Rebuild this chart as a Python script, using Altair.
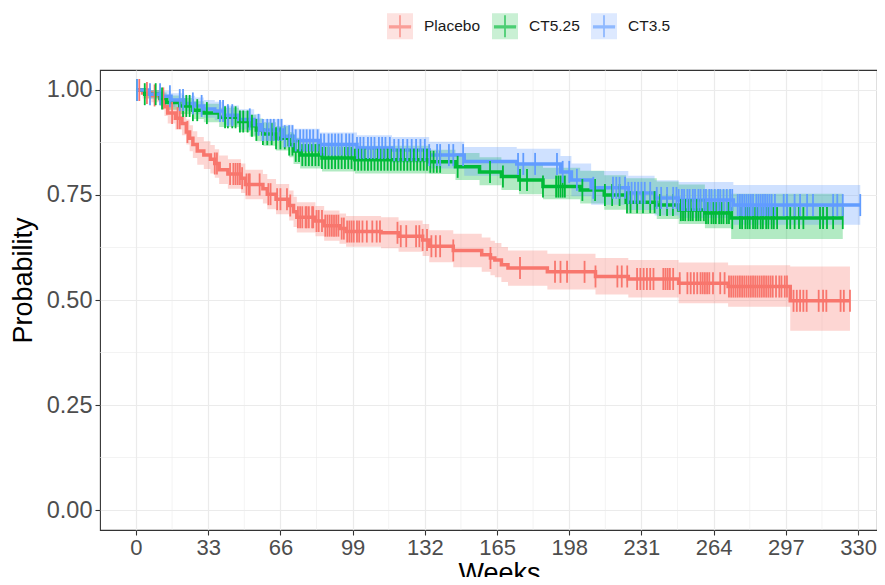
import altair as alt
import pandas as pd

groups = ["Placebo", "CT5.25", "CT3.5"]
colors = ["#F8766D", "#00BA38", "#619CFF"]
key_fills = ["#FDD6D3", "#B3EAC3", "#D0E1FF"]   # band colour at 30% over white, for the legend keys

# ---------------- Placebo ----------------
placebo_t = [0, 3, 7, 11, 13, 14.5, 18, 21, 23, 24.5, 26, 28, 31, 34, 36, 38, 42, 48, 50, 58, 60, 64, 70, 72, 73.5,
             82, 86, 93, 96, 112, 120, 131, 134, 145, 158, 162, 164, 167, 170, 188, 210, 225, 248, 270.6, 299]
placebo_s = [1.000, 0.993, 0.987, 0.980, 0.960, 0.945, 0.933, 0.920, 0.900, 0.885, 0.870, 0.855, 0.845, 0.835, 0.825,
             0.810, 0.800, 0.790, 0.775, 0.765, 0.752, 0.740, 0.725, 0.710, 0.697, 0.688, 0.677, 0.670, 0.663, 0.660,
             0.652, 0.643, 0.628, 0.618, 0.608, 0.600, 0.595, 0.584, 0.576, 0.567, 0.556, 0.550, 0.540, 0.532, 0.498]
placebo_lo = [1.000, 0.980, 0.971, 0.962, 0.938, 0.920, 0.906, 0.892, 0.870, 0.854, 0.838, 0.822, 0.812, 0.801, 0.791,
              0.776, 0.765, 0.755, 0.740, 0.730, 0.716, 0.704, 0.689, 0.674, 0.661, 0.652, 0.641, 0.634, 0.627, 0.623,
              0.615, 0.605, 0.590, 0.578, 0.567, 0.559, 0.554, 0.543, 0.534, 0.525, 0.513, 0.506, 0.492, 0.484, 0.427]
placebo_hi = [1.000, 1.000, 1.000, 0.998, 0.982, 0.970, 0.960, 0.948, 0.930, 0.916, 0.902, 0.888, 0.878, 0.869, 0.859,
              0.844, 0.835, 0.825, 0.810, 0.800, 0.788, 0.776, 0.761, 0.746, 0.733, 0.724, 0.713, 0.706, 0.700, 0.697,
              0.689, 0.681, 0.666, 0.658, 0.649, 0.641, 0.636, 0.626, 0.618, 0.610, 0.600, 0.595, 0.589, 0.583, 0.580]
placebo_end = 326.3
placebo_cens = [1.5, 5, 8.5, 12.5, 16.5, 19, 20, 23.5, 36, 37, 43, 44.5, 45.5, 46.5, 47.5, 48.5, 50.5, 51.5, 52,
                56.5, 60.5, 61.5, 64.5, 66, 69, 70.5, 74, 75, 76, 77.5, 78, 79, 80.5, 81, 82.5, 83.5, 85, 86.5,
                87.5, 88.5, 89.5, 90.5, 91.5, 92.5, 94, 95, 96.5, 97.5, 98.5, 99.5, 101, 102, 103.5, 105.5, 108,
                110, 111.5, 119.5, 121, 123.5, 128, 129.5, 131, 133, 135, 137, 139, 145, 162, 175.5, 191.5, 194,
                197, 205, 210, 220, 222, 224.5, 229, 230.5, 232, 233.5, 235, 236.5, 241, 242, 243, 244, 245.5,
                248.5, 252, 253.5, 255, 256.5, 258, 259, 260, 261, 262, 263.7, 267, 269, 271, 272, 273, 274, 275,
                276, 277, 278, 279, 280, 281, 282, 283, 284, 285, 286, 287, 288, 289, 290, 291, 292.5, 294, 295,
                296.5, 297.5, 300.5, 302, 303.5, 305, 306.5, 312, 314, 315.5, 322, 323.5, 326.3]

# ---------------- CT5.25 ----------------
ct525_t = [0, 4, 11, 14, 20, 26, 31, 38, 47, 52, 55, 58, 64, 70, 72, 75, 85, 100, 134, 146, 157, 167, 175, 186,
           203, 214, 224, 238, 248, 260, 272]
ct525_s = [1.000, 0.990, 0.980, 0.970, 0.962, 0.952, 0.945, 0.935, 0.925, 0.915, 0.905, 0.895, 0.885, 0.870, 0.855,
           0.845, 0.838, 0.834, 0.829, 0.817, 0.805, 0.794, 0.786, 0.770, 0.762, 0.750, 0.733, 0.726, 0.714, 0.707,
           0.695]
ct525_lo = [1.000, 0.980, 0.966, 0.953, 0.943, 0.931, 0.923, 0.912, 0.900, 0.889, 0.878, 0.867, 0.856, 0.840, 0.824,
            0.813, 0.806, 0.801, 0.800, 0.786, 0.773, 0.762, 0.752, 0.740, 0.730, 0.715, 0.705, 0.693, 0.681, 0.671,
            0.645]
ct525_hi = [1.000, 1.000, 0.994, 0.987, 0.981, 0.973, 0.967, 0.958, 0.950, 0.941, 0.932, 0.923, 0.914, 0.900, 0.886,
            0.877, 0.870, 0.867, 0.858, 0.850, 0.840, 0.829, 0.822, 0.815, 0.808, 0.797, 0.790, 0.782, 0.775, 0.763,
            0.753]
ct525_end = 323
ct525_cens = [0.5, 4, 9, 11.9, 21.5, 23, 24.5, 26, 28, 32.4, 40.7, 42, 44, 45.5, 47.5, 49, 51, 53, 55, 58, 60, 62,
              64, 66, 68, 70, 71.5, 73, 74.5, 76, 77.5, 79, 80.5, 82, 83.5, 85, 86.5, 88, 89.5, 91, 92.5, 94, 95.5,
              97, 98.5, 100, 101.5, 103, 104.5, 106, 107.5, 109, 110.5, 112, 113.5, 115, 116.5, 118, 119.5, 121,
              122.5, 124, 125.5, 127, 128.5, 130, 131.5, 133, 134.5, 136, 137.5, 139, 147, 161.8, 167.7, 175.5,
              178.7, 186, 192, 193, 194, 195, 196, 204, 209.8, 214.3, 217.6, 221, 224.4, 226, 229, 231.7, 235, 237,
              239.5, 242.7, 245.4, 249, 250, 251, 252.5, 253.5, 254.5, 256, 257, 258, 259.5, 260.5, 261.5, 263,
              264, 265, 266.5, 267.5, 268.5, 270, 271, 272.5, 276, 277, 278.5, 279.5, 280.5, 282, 283, 284, 285.5,
              286.5, 288, 289, 290.5, 291.5, 293, 297.5, 299, 301, 303, 305, 312.6, 314, 315.8, 318.6, 323]

# ---------------- CT3.5 ----------------
ct35_t = [0, 6, 12, 16, 22, 27, 31, 36, 40, 47, 54, 57, 67, 72, 84, 101, 117, 134, 150, 174, 194, 199, 208, 225,
          237, 248, 273]
ct35_s = [1.000, 0.990, 0.985, 0.976, 0.968, 0.962, 0.955, 0.950, 0.940, 0.930, 0.917, 0.905, 0.890, 0.880, 0.870,
          0.862, 0.857, 0.845, 0.830, 0.824, 0.805, 0.786, 0.767, 0.755, 0.743, 0.738, 0.726]
ct35_lo = [1.000, 0.980, 0.972, 0.960, 0.950, 0.942, 0.934, 0.928, 0.917, 0.906, 0.892, 0.879, 0.863, 0.852, 0.841,
           0.832, 0.826, 0.813, 0.796, 0.788, 0.767, 0.747, 0.727, 0.714, 0.701, 0.695, 0.679]
ct35_hi = [1.000, 1.000, 0.998, 0.992, 0.986, 0.982, 0.976, 0.972, 0.963, 0.954, 0.942, 0.931, 0.917, 0.908, 0.899,
           0.892, 0.888, 0.877, 0.864, 0.860, 0.843, 0.825, 0.807, 0.796, 0.785, 0.781, 0.774]
ct35_end = 331
ct35_cens = [0.5, 6.4, 11, 15.5, 20, 21.5, 26, 30, 38.4, 39.8, 42, 44, 52, 56, 58, 60, 61.5, 63, 65, 66.5, 68, 70,
             71.5, 73, 75, 76.5, 78, 79.5, 81, 83, 84.5, 86, 88, 89.5, 91, 92.5, 94, 96, 97.5, 99, 101, 102.5, 104,
             106, 107.5, 109, 111, 112.5, 114, 116, 118, 120, 122, 124, 126, 128, 130, 132, 134, 137.6, 139, 143,
             145, 149.5, 174.6, 177, 182.4, 192.4, 195, 198, 201.5, 209, 218, 219.5, 221, 223.5, 225, 226.5, 228,
             229.5, 231, 232.5, 235, 238, 240, 242.7, 245.5, 247, 248, 249.5, 250.5, 252, 253, 254.5, 255.5, 257,
             258, 259.5, 260.5, 262, 263, 264.5, 266, 267, 268.5, 270, 271.5, 272.5, 275, 276, 277, 278, 279, 280,
             281, 282, 283.5, 284.5, 285.5, 286.5, 287.5, 288.5, 289.5, 290.5, 292, 296, 297.5, 301, 303.5, 306.7,
             309.4, 318.6, 320.5, 323, 331]

x_ticks = [0, 33, 66, 99, 132, 165, 198, 231, 264, 297, 330]
x_minor = [16.5, 49.5, 82.5, 115.5, 148.5, 181.5, 214.5, 247.5, 280.5, 313.5]
y_ticks = [0, 0.25, 0.5, 0.75, 1.0]
y_minor = [0.125, 0.375, 0.625, 0.875]


def step_rows(name, t, s, lo, hi, end):
    rows = [dict(group=name, week=t[i], surv=s[i], lo=lo[i], hi=hi[i]) for i in range(len(t))]
    rows.append(dict(group=name, week=end, surv=s[-1], lo=lo[-1], hi=hi[-1]))
    return rows


def cens_rows(name, t, s, times):
    rows = []
    for c in times:
        idx = max(i for i in range(len(t)) if t[i] <= c)
        rows.append(dict(group=name, week=c, surv=s[idx]))
    return rows


curves = pd.DataFrame(
    step_rows("Placebo", placebo_t, placebo_s, placebo_lo, placebo_hi, placebo_end)
    + step_rows("CT5.25", ct525_t, ct525_s, ct525_lo, ct525_hi, ct525_end)
    + step_rows("CT3.5", ct35_t, ct35_s, ct35_lo, ct35_hi, ct35_end)
)
censors = pd.DataFrame(
    cens_rows("Placebo", placebo_t, placebo_s, placebo_cens)
    + cens_rows("CT5.25", ct525_t, ct525_s, ct525_cens)
    + cens_rows("CT3.5", ct35_t, ct35_s, ct35_cens)
)
legend_rows = pd.DataFrame({"group": groups, "week": [0, 0, 0], "surv": [1.0, 1.0, 1.0]})

FONT = "Liberation Sans"
x_scale = alt.Scale(domain=[-16.45, 338.65], nice=False, zero=False)
y_scale = alt.Scale(domain=[-0.0476, 1.0476], nice=False, zero=False)

x_axis = alt.Axis(values=x_ticks, title="Weeks", labelFontSize=22, titleFontSize=27, labelColor="#4D4D4D",
                  titleColor="#000000", tickColor="#333333", tickSize=5, tickWidth=1.1, domain=False,
                  labelPadding=2, titlePadding=2, titleX=399, titleFontWeight="normal", labelFont=FONT,
                  titleFont=FONT, grid=True, gridColor="#EBEBEB", gridWidth=1.2, labelFlush=False,
                  labelOverlap=False)
y_axis = alt.Axis(values=y_ticks, format=".2f", title="Probability", labelFontSize=23.5, titleFontSize=27,
                  labelColor="#4D4D4D", titleColor="#000000", tickColor="#333333", tickSize=5, tickWidth=1.1,
                  domain=False, labelPadding=3, titlePadding=9, titleY=210, titleFontWeight="normal",
                  labelFont=FONT, titleFont=FONT, grid=True, gridColor="#EBEBEB", gridWidth=1.2,
                  labelFlush=False, labelOverlap=False)

minor_x = alt.Chart(pd.DataFrame({"v": x_minor})).mark_rule(color="#EBEBEB", strokeWidth=0.6).encode(
    x=alt.X("v:Q", scale=x_scale, axis=x_axis)
)
minor_y = alt.Chart(pd.DataFrame({"v": y_minor})).mark_rule(color="#EBEBEB", strokeWidth=0.6).encode(
    y=alt.Y("v:Q", scale=y_scale, axis=y_axis)
)

bands = alt.Chart(curves).mark_area(interpolate="step-after", fillOpacity=0.3).encode(
    x=alt.X("week:Q", scale=x_scale, axis=x_axis),
    y=alt.Y("lo:Q", scale=y_scale, axis=y_axis, stack=None),
    y2="hi:Q",
    fill=alt.Fill("group:N", scale=alt.Scale(domain=groups, range=colors), legend=None),
)

lines = alt.Chart(curves).mark_line(interpolate="step-after", strokeWidth=3.5).encode(
    x=alt.X("week:Q", scale=x_scale, axis=x_axis),
    y=alt.Y("surv:Q", scale=y_scale, axis=y_axis),
    stroke=alt.Stroke("group:N", scale=alt.Scale(domain=groups, range=colors), legend=None),
)

ticks = alt.Chart(censors).mark_point(shape="M0,-1V1", size=484, strokeWidth=1.8, filled=False,
                                      opacity=1).encode(
    x=alt.X("week:Q", scale=x_scale, axis=x_axis),
    y=alt.Y("surv:Q", scale=y_scale, axis=y_axis),
    stroke=alt.Stroke("group:N", scale=alt.Scale(domain=groups, range=colors), legend=None),
)

# legend keys: shaded box with the line cross on it (one merged fill + stroke legend)
key_path = "M-0.85,0H1V-1H-1V1H1V0M0,-0.85V0.85M-0.85,0.1H0.85"
key_legend = alt.Legend(orient="none", legendX=286, legendY=-58, direction="horizontal", title=None,
                        symbolType=key_path, symbolSize=676, symbolStrokeWidth=1.8, symbolDash=[22.2, 3000],
                        labelFontSize=15.5, labelFont=FONT, labelColor="#1A1A1A", labelOffset=10,
                        columnPadding=7, padding=0)
legend_keys = alt.Chart(legend_rows).mark_point(size=0, strokeWidth=1.8, filled=True).encode(
    x=alt.X("week:Q", scale=x_scale, axis=x_axis),
    y=alt.Y("surv:Q", scale=y_scale, axis=y_axis),
    fill=alt.Fill("group:N", scale=alt.Scale(domain=groups, range=key_fills), legend=key_legend),
    stroke=alt.Stroke("group:N", scale=alt.Scale(domain=groups, range=colors), legend=key_legend),
)

chart = alt.layer(minor_x, minor_y, bands, lines, ticks, legend_keys).resolve_scale(
    fill="independent", stroke="independent"
).properties(
    width=777, height=460,
    autosize=alt.AutoSizeParams(type="none"),
    padding={"left": 92, "top": 62, "right": 0, "bottom": 47},
    background="white",
).configure_view(stroke="#333333", strokeWidth=1.1)

chart.save("out.html", embed_options={"renderer": "svg", "actions": False})
